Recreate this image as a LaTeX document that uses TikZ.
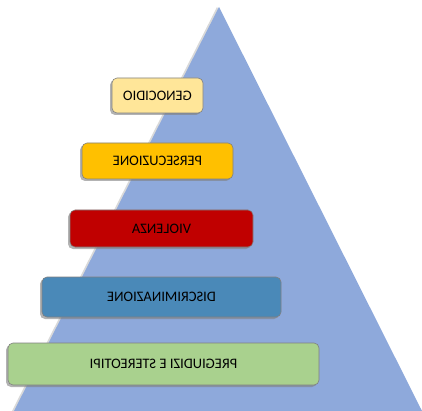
\documentclass[tikz,border=0pt]{standalone}
\usepackage{fontspec}
\setmainfont{Carlito}
\usetikzlibrary{shadows}

\definecolor{pyramid}{HTML}{8EA9DB}
\definecolor{genocidio}{HTML}{FFE699}
\definecolor{persecuzione}{HTML}{FFC000}
\definecolor{violenza}{HTML}{C00000}
\definecolor{discriminazione}{HTML}{4A89B8}
\definecolor{pregiudizi}{HTML}{A9D18E}

\begin{document}
\begin{tikzpicture}[
  x=1pt,
  y=-1pt,
  level/.style={draw=black!50, line width=.6pt, rounded corners=5pt,
    drop shadow={shadow xshift=-2pt, shadow yshift=-2pt, opacity=.6},
    font=\fontsize{14.5}{16}\selectfont, text=black, xscale=-1},
]
\useasboundingbox (0,0) rectangle (422,411);
\fill[pyramid, drop shadow={shadow xshift=-2pt, shadow yshift=0pt, opacity=.3}]
  (219,7) -- (422,411) -- (14,411) -- cycle;
\node[level, fill=pregiudizi, minimum width=311, minimum height=42] (pregiudizi)
  at (163.5,364) {PREGIUDIZI E STEREOTIPI};
\node[level, fill=discriminazione, minimum width=239, minimum height=40] (discriminazione)
  at (161.5,297) {DISCRIMINAZIONE};
\node[level, fill=violenza, minimum width=183, minimum height=37] (violenza)
  at (161.5,228.5) {VIOLENZA};
\node[level, fill=persecuzione, minimum width=151, minimum height=36] (persecuzione)
  at (157.5,161) {PERSECUZIONE};
\node[level, fill=genocidio, minimum width=91, minimum height=35] (genocidio)
  at (157.5,95.5) {GENOCIDIO};
\end{tikzpicture}
\end{document}
